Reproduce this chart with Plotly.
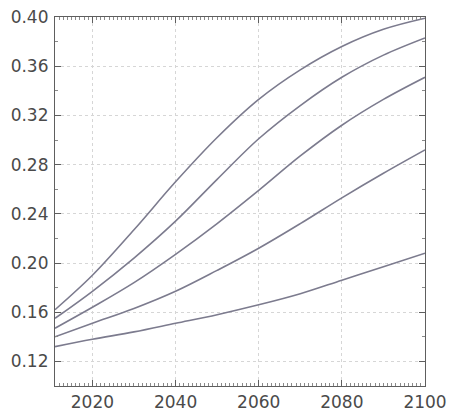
import plotly.graph_objects as go

years = [2011, 2020, 2030, 2040, 2050, 2060, 2070, 2080, 2090, 2100]
s1 = [0.162, 0.190, 0.227, 0.266, 0.302, 0.333, 0.357, 0.376, 0.390, 0.399]
s2 = [0.155, 0.177, 0.204, 0.234, 0.268, 0.301, 0.328, 0.351, 0.369, 0.383]
s3 = [0.147, 0.164, 0.184, 0.207, 0.232, 0.259, 0.287, 0.312, 0.333, 0.351]
s4 = [0.140, 0.151, 0.163, 0.177, 0.194, 0.212, 0.232, 0.253, 0.273, 0.292]
s5 = [0.132, 0.138, 0.144, 0.151, 0.158, 0.166, 0.175, 0.186, 0.197, 0.208]
series = [s1, s2, s3, s4, s5]

x_ticks = [2020, 2040, 2060, 2080, 2100]
y_ticks = [0.12, 0.16, 0.20, 0.24, 0.28, 0.32, 0.36, 0.40]

line_color = "#7c7b8e"
frame_color = "#5e5e5e"
text_color = "#4a4a4a"

fig = go.Figure()
for s in series:
    fig.add_trace(go.Scatter(x=years, y=s, mode="lines",
                             line=dict(color=line_color, width=1.6, shape="spline", smoothing=1.0),
                             showlegend=False, hoverinfo="skip"))

axis_common = dict(
    showline=True, linecolor=frame_color, linewidth=1.2, mirror="ticks",
    ticks="inside", tickcolor=frame_color, ticklen=6, tickwidth=1,
    showgrid=True, gridcolor="#d6d6d6", griddash="dot", gridwidth=1,
    zeroline=False, automargin=False,
    tickfont=dict(family="DejaVu Sans", size=17, color=text_color),
)

fig.update_xaxes(range=[2011, 2100], tickvals=x_ticks,
                 minor=dict(ticks="inside", dtick=1, ticklen=3, tickcolor="#8a8a8a", showgrid=False),
                 ticklabelstandoff=0, **axis_common)
fig.update_yaxes(range=[0.10, 0.40], tickvals=y_ticks, tickformat=".2f",
                 minor=dict(ticks="inside", dtick=0.02, ticklen=3, tickcolor="#8a8a8a", showgrid=False),
                 ticklabelstandoff=2, **axis_common)

fig.update_layout(
    width=449, height=411,
    margin=dict(l=55, r=24, t=17, b=25),
    paper_bgcolor="white", plot_bgcolor="white",
)

fig.write_html("out.html", config={"displayModeBar": False},
               post_script="document.body.style.margin='0';document.body.style.overflow='hidden';")
